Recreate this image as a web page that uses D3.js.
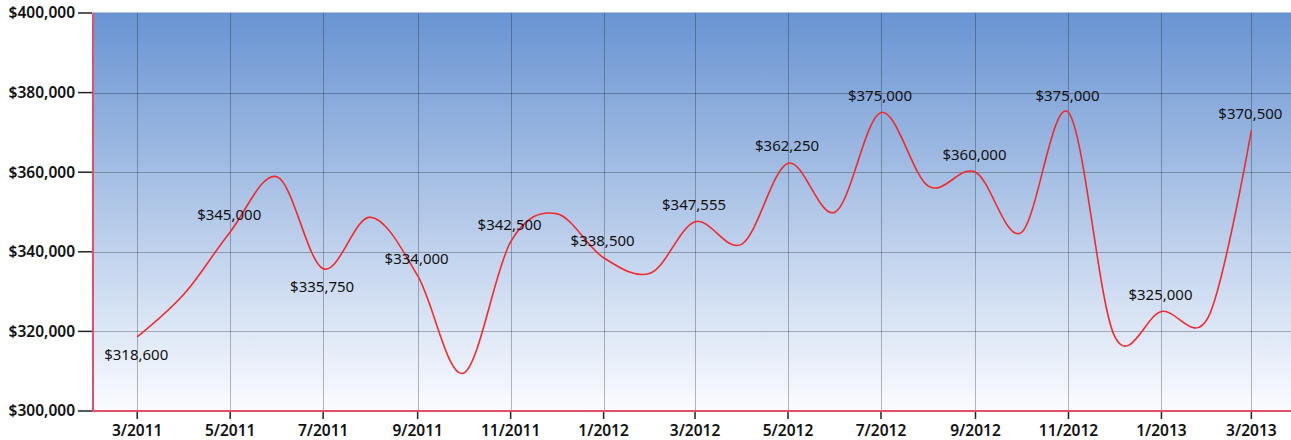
<!DOCTYPE html>
<html>
<head>
<meta charset="utf-8">
<script src="https://cdn.jsdelivr.net/npm/d3@7"></script>
<style>
  body { margin: 0; background: #fff; }
  svg { display: block; font-family: "Noto Sans", "Open Sans", sans-serif; }
  .axis-label { font-size: 15.5px; font-weight: 600; fill: #111; }
  .point-label { font-size: 15px; fill: #111; }
</style>
</head>
<body>
<div id="chart"></div>
<script>
// monthly values, 3/2011 .. 3/2013
const months = ['2011-03','2011-04','2011-05','2011-06','2011-07','2011-08','2011-09','2011-10','2011-11','2011-12',
  '2012-01','2012-02','2012-03','2012-04','2012-05','2012-06','2012-07','2012-08','2012-09','2012-10','2012-11','2012-12',
  '2013-01','2013-02','2013-03']
const prices = [318600, 329500, 345000, 358800, 335750, 348700, 334000, 309500, 342500, 349600,
  338500, 334700, 347555, 342000, 362250, 350000, 375000, 356500, 360000, 344800, 375000, 319000,
  325000, 323800, 370500]
const yTicks = [300000, 320000, 340000, 360000, 380000, 400000]

const width = 1291, height = 440
const margin = {left: 93, top: 13, right: 0, bottom: 29}

const parse = d3.utcParse('%Y-%m')
const data = months.map((m, i) => ({date: parse(m), value: prices[i]}))

const svg = d3.select('#chart').append('svg')
  .attr('width', width)
  .attr('height', height)

const x = d3.scaleUtc()
  .domain([new Date(Date.UTC(2011, 0, 31)), new Date(Date.UTC(2013, 2, 27))])
  .range([margin.left, width - margin.right])

const y = d3.scaleLinear()
  .domain([300000, 400000])
  .range([height - margin.bottom, margin.top])

const grad = svg.append('defs').append('linearGradient')
  .attr('id', 'bg')
  .attr('x1', 0).attr('y1', 0).attr('x2', 0).attr('y2', 1)
grad.append('stop').attr('offset', '0%').attr('stop-color', '#6994d2')
grad.append('stop').attr('offset', '100%').attr('stop-color', '#fbfcff')

svg.append('rect')
  .attr('x', margin.left)
  .attr('y', margin.top)
  .attr('width', width - margin.right - margin.left)
  .attr('height', y(300000) - margin.top)
  .attr('fill', 'url(#bg)')

// top border
svg.append('line')
  .attr('x1', margin.left).attr('x2', width)
  .attr('y1', margin.top - 0.5).attr('y2', margin.top - 0.5)
  .attr('stroke', '#b9c3d3')

const xTicks = x.ticks(d3.utcMonth.every(2))

let grid = svg.append('g')
  .attr('stroke', '#000')
  .attr('stroke-opacity', 0.27)

grid.selectAll('.hgrid')
  .data(yTicks.filter(d => d > 300000 && d < 400000))
  .join('line')
  .attr('x1', margin.left).attr('x2', width)
  .attr('y1', d => Math.round(y(d)) + 0.5).attr('y2', d => Math.round(y(d)) + 0.5)

grid.selectAll('.vgrid')
  .data(xTicks)
  .join('line')
  .attr('x1', d => Math.round(x(d)) + 0.5).attr('x2', d => Math.round(x(d)) + 0.5)
  .attr('y1', margin.top).attr('y2', y(300000))

const line = d3.line()
  .curve(d3.curveCardinal.tension(0))
  .x(d => x(d.date))
  .y(d => y(d.value))

svg.append('path')
  .datum(data)
  .attr('fill', 'none')
  .attr('stroke', '#f22a2a')
  .attr('stroke-width', 1.6)
  .attr('d', line)

// axis lines
svg.append('line')
  .attr('x1', margin.left).attr('x2', margin.left)
  .attr('y1', margin.top).attr('y2', y(300000) + 1)
  .attr('stroke', '#e2506b').attr('stroke-width', 2)
svg.append('line')
  .attr('x1', margin.left).attr('x2', width)
  .attr('y1', y(300000)).attr('y2', y(300000))
  .attr('stroke', '#e2506b').attr('stroke-width', 2)

// y axis
let yaxis = svg.append('g')
yaxis.selectAll('line')
  .data(yTicks)
  .join('line')
  .attr('x1', margin.left - 15).attr('x2', margin.left - 1)
  .attr('y1', d => y(d)).attr('y2', d => y(d))
  .attr('stroke', '#222').attr('stroke-width', 1.5)
yaxis.selectAll('text')
  .data(yTicks)
  .join('text')
  .attr('class', 'axis-label')
  .attr('x', margin.left - 18)
  .attr('y', d => y(d))
  .attr('dy', '0.35em')
  .attr('text-anchor', 'end')
  .text(d3.format('$,'))

// x axis
let xaxis = svg.append('g')
xaxis.selectAll('line')
  .data(xTicks)
  .join('line')
  .attr('x1', d => x(d)).attr('x2', d => x(d))
  .attr('y1', y(300000) + 1).attr('y2', y(300000) + 8)
  .attr('stroke', '#222').attr('stroke-width', 1.5)
xaxis.selectAll('text')
  .data(xTicks)
  .join('text')
  .attr('class', 'axis-label')
  .attr('x', d => x(d))
  .attr('y', y(300000) + 20)
  .attr('dy', '0.35em')
  .attr('text-anchor', 'middle')
  .text(d3.utcFormat('%-m/%Y'))

// point labels on every other month; put below when the point is a local low
const labelled = data.filter((d, i) => i % 2 === 0)
svg.append('g').selectAll('text')
  .data(labelled)
  .join('text')
  .attr('class', 'point-label')
  .attr('x', d => x(d.date) - 1)
  .attr('y', d => {
    let i = data.indexOf(d)
    let prev = data[i - 1], next = data[i + 1]
    let low = (!prev || d.value < prev.value) && (!next || d.value < next.value)
    return low ? y(d.value) + 18 : y(d.value) - 17
  })
  .attr('dy', '0.35em')
  .attr('text-anchor', 'middle')
  .text(d => d3.format('$,')(d.value))
</script>
</body>
</html>
